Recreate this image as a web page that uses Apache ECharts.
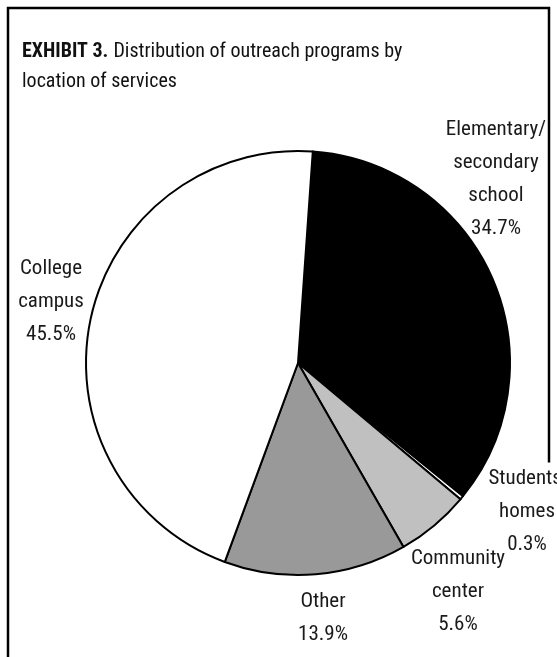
<!DOCTYPE html>
<html>
<head>
<meta charset="utf-8">
<script src="https://cdn.jsdelivr.net/npm/echarts@6/dist/echarts.min.js"></script>
<style>
  html, body { margin: 0; padding: 0; background: #fff; }
  #chart { width: 557px; height: 657px; }
</style>
</head>
<body>
<div id="chart"></div>
<script>
// Share of outreach programs by where services are delivered (percent)
const categories = ['Elementary/\nsecondary\nschool', "Students'\nhomes", 'Community\ncenter', 'Other', 'College\ncampus'];
const shares = [34.7, 0.3, 5.6, 13.9, 45.5];
const sliceColors = ['#000000', '#ffffff', '#c0c0c0', '#999999', '#ffffff'];

const FONT = "'Roboto Condensed', 'Liberation Sans', sans-serif";

// Label anchor points (centre of each text block)
const labelSpots = [
  [496, 179],
  [527, 512],
  [458, 592],
  [323, 618],
  [51, 302]
];

const chart = echarts.init(document.getElementById('chart'), null, { renderer: 'canvas' });

chart.setOption({
  backgroundColor: '#ffffff',
  animation: false,
  title: {
    left: 17,
    top: 32,
    text: '{b|EXHIBIT 3.} {n|Distribution of outreach programs by}\n{n|location of services}',
    textStyle: {
      rich: {
        b: { fontFamily: FONT, fontSize: 20, fontWeight: 'bold', color: '#111', lineHeight: 30 },
        n: { fontFamily: FONT, fontSize: 20, fontWeight: 'normal', color: '#111', lineHeight: 30 }
      }
    }
  },
  graphic: [{
    type: 'polyline',
    z: 0,
    shape: { points: [[549, 465], [549, 8], [8, 8], [8, 657]] },
    style: { stroke: '#000', lineWidth: 2.5, fill: null }
  }],
  series: [{
    type: 'pie',
    center: [298, 363],
    radius: 212,
    startAngle: 86,
    clockwise: true,
    avoidLabelOverlap: false,
    itemStyle: { borderColor: '#000', borderWidth: 2 },
    label: {
      show: true,
      fontFamily: FONT,
      fontSize: 21,
      lineHeight: 33,
      color: '#1a1a1a',
      align: 'center',
      formatter: p => p.name + '\n' + p.value.toFixed(1) + '%'
    },
    labelLine: { show: false },
    labelLayout: p => ({
      x: labelSpots[p.dataIndex][0],
      y: labelSpots[p.dataIndex][1],
      align: 'center',
      verticalAlign: 'middle'
    }),
    data: categories.map((c, i) => ({
      name: c,
      value: shares[i],
      itemStyle: { color: sliceColors[i] },
      label: i === 1 ? { backgroundColor: '#fff' } : undefined
    }))
  }]
});
</script>
</body>
</html>
